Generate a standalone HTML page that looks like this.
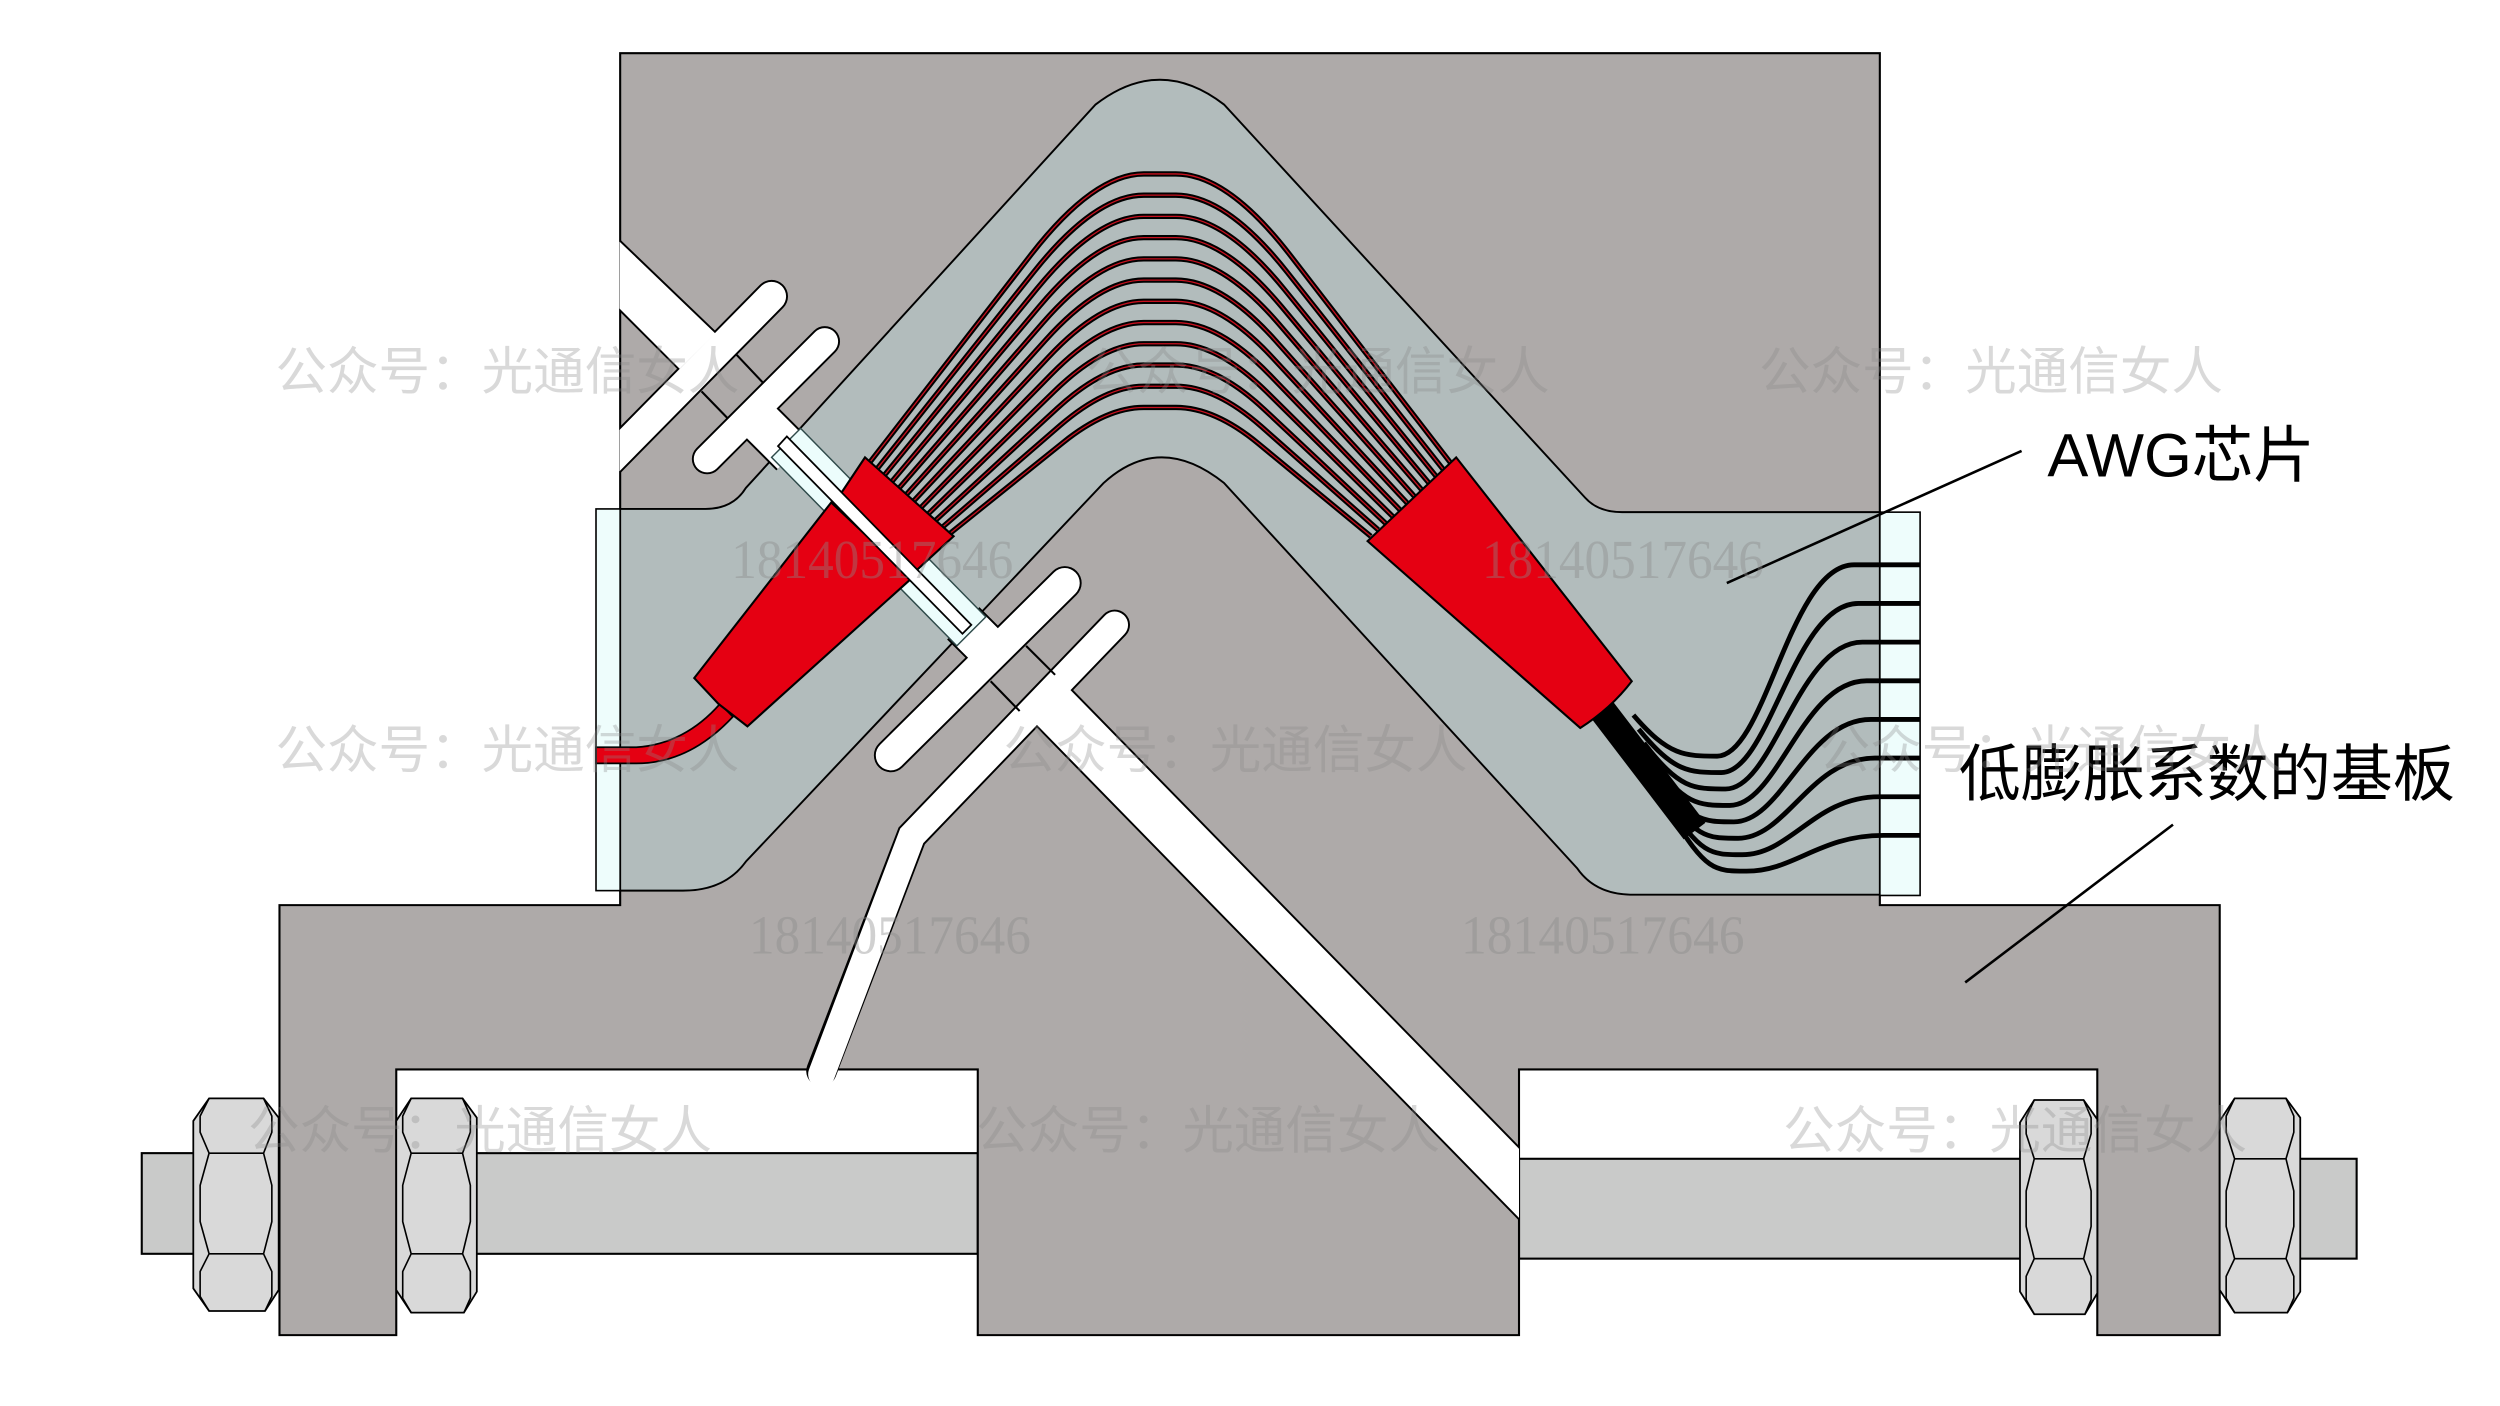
<!DOCTYPE html>
<html><head><meta charset="utf-8"><style>
html,body{margin:0;padding:0;background:#fff;}
svg{display:block;}
</style></head><body>
<svg id="s" xmlns="http://www.w3.org/2000/svg" width="2500" height="1406" viewBox="0 0 1552 873" preserveAspectRatio="none">
<defs>
<clipPath id="cl"><rect x="384.6" y="0" width="1200" height="873"/></clipPath>
<clipPath id="cl2"><rect x="0" y="0" width="943" height="873"/></clipPath>
</defs>
<!-- rods -->
<rect x="88" y="716" width="519" height="62.5" fill="#c9cac9" stroke="#000" stroke-width="1.3"/>
<rect x="943" y="719.5" width="520" height="62" fill="#c9cac9" stroke="#000" stroke-width="1.3"/>
<!-- block -->
<path d="M385,33 L1167,33 L1167,562 L1378,562 L1378,829 L1302,829 L1302,664 L943,664 L943,829 L607,829 L607,664 L246,664 L246,829 L173.5,829 L173.5,562 L385,562 Z" fill="#aeaaa9" stroke="#000" stroke-width="1.3"/>
<!-- chip -->
<path d="M385,316 L438,316 Q455,316 463,303 L680,65 Q720,34 760,65 L984,309 Q992,318 1007,318 L1167,318 L1167,555.5 L1012,555.5 Q990,555 979,539 L760,300 Q720,268 685,300 L463,535 Q450,553 424,553 L385,553 Z" fill="#b2bcbc" stroke="#000" stroke-width="1.2"/>
<rect x="370" y="316" width="15" height="237" fill="#ecfdfc" fill-opacity="0.9" stroke="#000" stroke-width="1"/>
<rect x="1167" y="318" width="25" height="238" fill="#ecfdfc" fill-opacity="0.9" stroke="#000" stroke-width="1"/>
<g id="wg"></g>
<!-- slots -->
<g clip-path="url(#cl)">
<g stroke="#000" stroke-width="2.6" fill="none">
<polygon points="370,136 444,207 422,229 370,177" fill="#000" stroke-width="2.4"/>
<line x1="479" y1="184" x2="340" y2="325" stroke-width="20.4" stroke-linecap="round"/>
<line x1="512" y1="212" x2="439" y2="285" stroke-width="19" stroke-linecap="round"/>
<line x1="466" y1="256" x2="492" y2="282" stroke-width="28.4"/>
<line x1="661" y1="362" x2="553" y2="469" stroke-width="21" stroke-linecap="round"/>
<line x1="598" y1="387" x2="620" y2="409" stroke-width="28.4"/>
<polyline points="692,388 566,519 510,665" stroke-width="19" stroke-linecap="round" stroke-linejoin="miter"/>
<line x1="648" y1="433" x2="955" y2="747" stroke-width="32.4" clip-path="url(#cl2)"/>
</g>
<g stroke="#fff" fill="none">
<polygon points="370,136 444,207 422,229 370,177" fill="#fff" stroke="none"/>
<line x1="479" y1="184" x2="340" y2="325" stroke-width="18" stroke-linecap="round"/>
<line x1="512" y1="212" x2="439" y2="285" stroke-width="16.6" stroke-linecap="round"/>
<line x1="466" y1="256" x2="492" y2="282" stroke-width="26"/>
<line x1="661" y1="362" x2="553" y2="469" stroke-width="18.6" stroke-linecap="round"/>
<line x1="598" y1="387" x2="620" y2="409" stroke-width="26"/>
<polyline points="692,388 566,519 510,667" stroke-width="16.6" stroke-linecap="round" stroke-linejoin="miter"/>
<line x1="648" y1="433" x2="955" y2="747" stroke-width="30" clip-path="url(#cl2)"/>
</g>
</g>
<g stroke="#000" stroke-width="1.3">
<line x1="457" y1="220" x2="474" y2="238"/>
<line x1="435.5" y1="243" x2="452" y2="260"/>
<line x1="637" y1="401" x2="655" y2="419"/>
<line x1="615" y1="423" x2="633" y2="441.5"/>
</g>
<!-- cyan rod -->
<polygon points="497,266 612,383 594,401 479,284" fill="#ecfdfc" stroke="#2f4a4a" stroke-width="0.9"/>
<!-- red blocks -->
<path d="M447,437 Q425,462 395,464 L370,464 L370,474 L395,474 Q428,474 455,445 Z" fill="#e50012" stroke="#000" stroke-width="1.1"/>
<path d="M516,312 L566,359 L464,451 L446,437 L431,421 Z" fill="#e50012" stroke="#000" stroke-width="1.3"/>
<path d="M537,284 L592,333 L568,355 L521,308 Z" fill="#e50012" stroke="#000" stroke-width="1.3"/>
<!-- narrow slot -->
<polygon points="488.5,271 603,388 597.5,393.5 483,277" fill="#fff" stroke="#000" stroke-width="1.1"/>
<!-- right bundle -->
<line x1="994" y1="440" x2="1052" y2="516" stroke="#000" stroke-width="17"/>
<path d="M849,336 L904,284 L1013,423 Q1000,440 981,452 Z" fill="#e50012" stroke="#000" stroke-width="1.3"/>
<g id="fb" fill="none" stroke="#000" stroke-width="3"></g>
<g id="nuts"></g>
<!-- leaders -->
<line x1="1255" y1="280" x2="1072" y2="362" stroke="#000" stroke-width="1.6"/>
<line x1="1349" y1="512" x2="1220" y2="610" stroke="#000" stroke-width="1.6"/>
<text x="1271" y="296" font-family="'Liberation Sans','Noto Sans CJK SC',sans-serif" font-size="38" textLength="166" lengthAdjust="spacingAndGlyphs" fill="#000">AWG芯片</text>
<text x="1216" y="494" font-family="'Noto Sans CJK SC','WenQuanYi Zen Hei',sans-serif" font-size="38.5" textLength="308" lengthAdjust="spacingAndGlyphs" fill="#000">低膨胀系数的基板</text>
<!-- watermarks -->
<g font-family="'Noto Sans CJK SC','WenQuanYi Zen Hei',sans-serif" font-size="32" fill="#8a8a8a" fill-opacity="0.32">
<text x="171" y="242" textLength="288" lengthAdjust="spacingAndGlyphs">公众号：光通信女人</text>
<text x="674" y="242" textLength="288" lengthAdjust="spacingAndGlyphs">公众号：光通信女人</text>
<text x="1092" y="242" textLength="288" lengthAdjust="spacingAndGlyphs">公众号：光通信女人</text>
<text x="171" y="477" textLength="288" lengthAdjust="spacingAndGlyphs">公众号：光通信女人</text>
<text x="623" y="477" textLength="288" lengthAdjust="spacingAndGlyphs">公众号：光通信女人</text>
<text x="1129" y="477" textLength="288" lengthAdjust="spacingAndGlyphs">公众号：光通信女人</text>
<text x="154" y="713" textLength="288" lengthAdjust="spacingAndGlyphs">公众号：光通信女人</text>
<text x="606" y="713" textLength="288" lengthAdjust="spacingAndGlyphs">公众号：光通信女人</text>
<text x="1107" y="713" textLength="288" lengthAdjust="spacingAndGlyphs">公众号：光通信女人</text>
</g>
<g font-family="'Liberation Serif',serif" font-size="34" fill="#8a8a8a" fill-opacity="0.4">
<text x="454" y="359" textLength="175" lengthAdjust="spacingAndGlyphs">18140517646</text>
<text x="920" y="359" textLength="175" lengthAdjust="spacingAndGlyphs">18140517646</text>
<text x="465" y="592" textLength="175" lengthAdjust="spacingAndGlyphs">18140517646</text>
<text x="907" y="592" textLength="176" lengthAdjust="spacingAndGlyphs">18140517646</text>
</g>
</svg>
<script>
(function(){
var NS="http://www.w3.org/2000/svg";
function el(p,tag,attrs){var e=document.createElementNS(NS,tag);for(var k in attrs)e.setAttribute(k,attrs[k]);p.appendChild(e);return e;}
var wg=document.getElementById("wg");
for(var i=0;i<12;i++){
 var t=i/11;
 var Lx=540+50*t, Ly=287+44*t, Rx=901-50*t, Ry=288+45*t, T=108+145*t;
 var Px=679+8*t, Qx=1441-Px;
 var Ax=Lx+0.72*(Px-Lx), Ay=Ly+0.72*(T-Ly);
 var Bx=Rx+0.72*(Qx-Rx), By=Ry+0.72*(T-Ry);
 var d="M"+Lx+","+Ly+" L"+Ax+","+Ay+" Q"+Px+","+T+" 710,"+T+" L730,"+T+" Q"+Qx+","+T+" "+Bx+","+By+" L"+Rx+","+Ry;
 el(wg,"path",{d:d,fill:"none",stroke:"#000","stroke-width":"3.3"});
 el(wg,"path",{d:d,fill:"none",stroke:"#c8101e","stroke-width":"0.8"});
}
var fb=document.getElementById("fb");
for(var j=0;j<8;j++){
 var Sx=1026+3.3*j, Sy=458+8.7*j, Bx2=1066+2.6*j, By2=469.5+10.2*j, Ey=350.7+24*j;
 var d2="M"+(Sx-12)+","+(Sy-14)+" C"+(Sx+10)+","+(By2)+" "+(Bx2-20)+","+By2+" "+Bx2+","+By2+" C"+(Bx2+30)+","+By2+" "+(Bx2+45)+","+Ey+" "+(Bx2+85)+","+Ey+" L1192,"+Ey;
 el(fb,"path",{d:d2});
}
var ng=document.getElementById("nuts");
function nut(x0,x1,y0,y1,rt,rb){
 var w=x1-x0, a=x0+0.185*w, b=x1-0.177*w, ia=x0+0.08*w, ib=x1-0.08*w;
 var d="M"+a+","+y0+" L"+b+","+y0+" L"+x1+","+(y0+12)+" L"+x1+","+(y1-13)+" L"+(x1-0.16*w)+","+y1+" L"+a+","+y1+" L"+x0+","+(y1-14)+" L"+x0+","+(y0+14)+" Z";
 el(ng,"path",{d:d,fill:"#d9d9d9",stroke:"#000","stroke-width":"1.1"});
 var inner="M"+a+","+y0+" L"+ia+","+(y0+11)+" L"+ia+","+(y0+21)+" L"+a+","+rt+" L"+b+","+rt+" L"+ib+","+(y0+21)+" L"+ib+","+(y0+11)+" L"+b+","+y0+
 " M"+a+","+rt+" L"+ia+","+(rt+20)+" L"+ia+","+(rb-20)+" L"+a+","+rb+" L"+b+","+rb+" L"+ib+","+(rb-20)+" L"+ib+","+(rt+20)+" L"+b+","+rt+
 " M"+a+","+rb+" L"+ia+","+(rb+11)+" L"+ia+","+(y1-9)+" L"+a+","+y1+" M"+b+","+rb+" L"+ib+","+(rb+11)+" L"+ib+","+(y1-9)+" L"+(x1-0.16*w)+","+y1;
 el(ng,"path",{d:inner,fill:"none",stroke:"#000","stroke-width":"1"});
}
nut(120,173,682,814,716,778.5);
nut(246,296,682,815,716,778.5);
nut(1254,1302,683,816,719.5,781.5);
nut(1378,1428,682,815,719.5,781.5);
})();
</script>
</body></html>
